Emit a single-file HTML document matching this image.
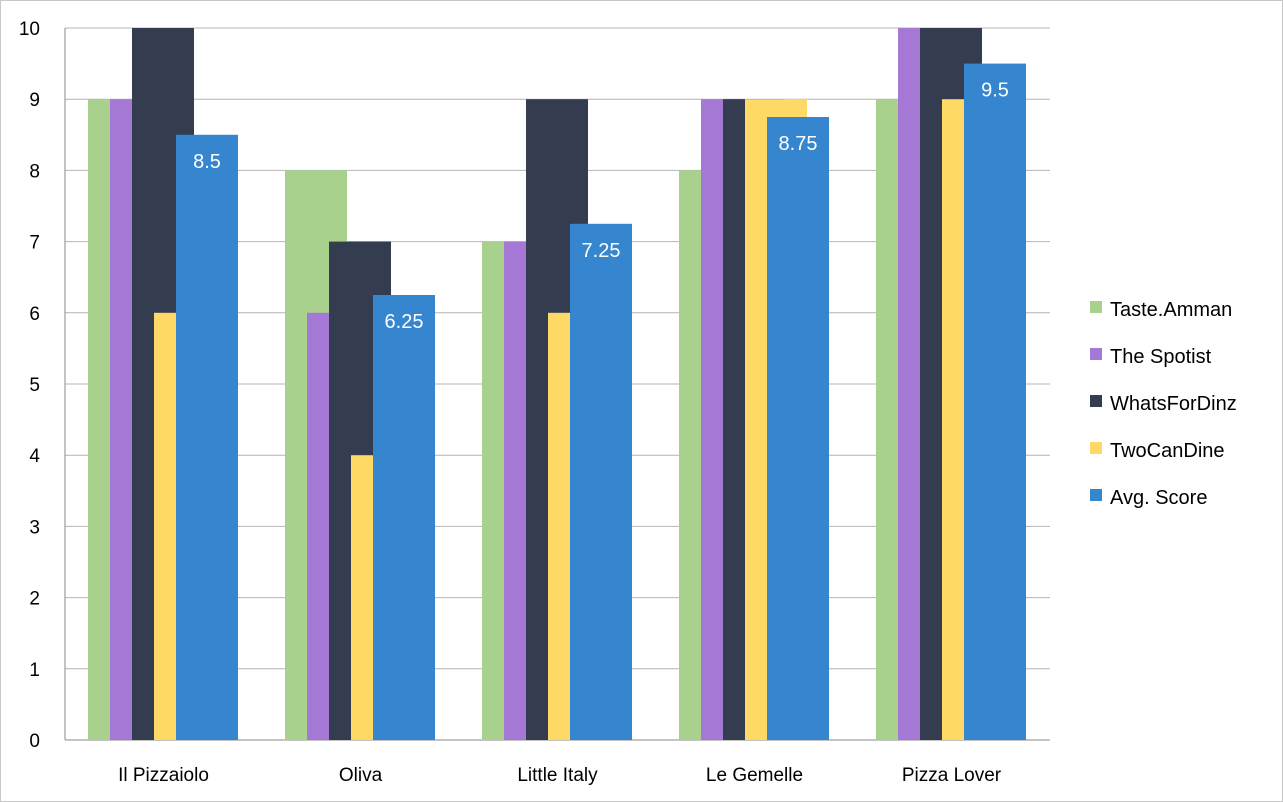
<!DOCTYPE html>
<html><head><meta charset="utf-8"><style>
html,body{margin:0;padding:0;background:#fff;}
svg{display:block;font-family:"Liberation Sans",sans-serif;}
</style></head><body>
<svg id="chart" width="1283" height="802">
<rect x="0.5" y="0.5" width="1282" height="801" fill="#fff" stroke="#c8c8c8"/>
<g id="grid"></g><g id="bars"></g><g id="labels"></g><g id="legend"></g>
</svg>
<script>
const categories = ["Il Pizzaiolo","Oliva","Little Italy","Le Gemelle","Pizza Lover"];
const seriesNames = ["Taste.Amman","The Spotist","WhatsForDinz","TwoCanDine","Avg. Score"];
const tasteAmman = [9,8,7,8,9];
const theSpotist = [9,6,7,9,10];
const whatsForDinz = [10,7,9,9,10];
const twoCanDine = [6,4,6,9,9];
const avgScore = [8.5,6.25,7.25,8.75,9.5];
const yTicks = [0,1,2,3,4,5,6,7,8,9,10];

const series = [tasteAmman, theSpotist, whatsForDinz, twoCanDine, avgScore];
const colors = ["#a9d18e","#a678d6","#333d4f","#ffd966","#3585cf"];
const NS = "http://www.w3.org/2000/svg";
const X0 = 65, X1 = 1050, Y0 = 740, Y1 = 28;
const yMax = 10;
const catW = (X1 - X0) / categories.length;
const y = v => Y0 - (v / yMax) * (Y0 - Y1);
const barW = 62, step = 22, groupOff = 23;
function mk(tag, attrs, parent){const e=document.createElementNS(NS,tag);for(const k in attrs)e.setAttribute(k,attrs[k]);parent.appendChild(e);return e;}

const grid = document.getElementById('grid');
yTicks.forEach(t=>{
  const l = mk('line',{x1:X0,x2:X1,y1:y(t),y2:y(t),stroke:t===0?'#888':'#b4b4b4','stroke-width':1},grid);
  
  
  const tx = mk('text',{x:40,y:y(t)+7,'text-anchor':'end','font-size':19,fill:'#000'},grid);
  tx.textContent = t;
  
  
});
mk('line',{x1:X0,x2:X0,y1:Y1,y2:Y0,stroke:'#888'},grid);

const bars = document.getElementById('bars');
const labels = document.getElementById('labels');
categories.forEach((c,i)=>{
  const gx = X0 + i*catW + groupOff;
  series.forEach((s,j)=>{
    const r = mk('rect',{x:gx+j*step,y:y(s[i]),width:barW,height:Y0-y(s[i]),fill:colors[j]},bars);
    
    
  });
  const bx = gx + 4*step + barW/2;
  const vl = mk('text',{x:bx,y:y(avgScore[i])+33,'text-anchor':'middle','font-size':20,fill:'#fff'},labels);
  vl.textContent = avgScore[i];
  
  
  const cl = mk('text',{x:X0+i*catW+catW/2,y:781,'text-anchor':'middle','font-size':19,fill:'#000'},labels);
  cl.textContent = c;
  
  
});

const legend = document.getElementById('legend');
seriesNames.forEach((n,j)=>{
  const yy = 309 + j*47;
  const sw = mk('rect',{x:1090,y:yy-8,width:12,height:12,fill:colors[j]},legend);
  
  
  const t = mk('text',{x:1110,y:yy+7,'font-size':20,fill:'#000'},legend);
  t.textContent = n;
  
  
});
</script>
</body></html>
